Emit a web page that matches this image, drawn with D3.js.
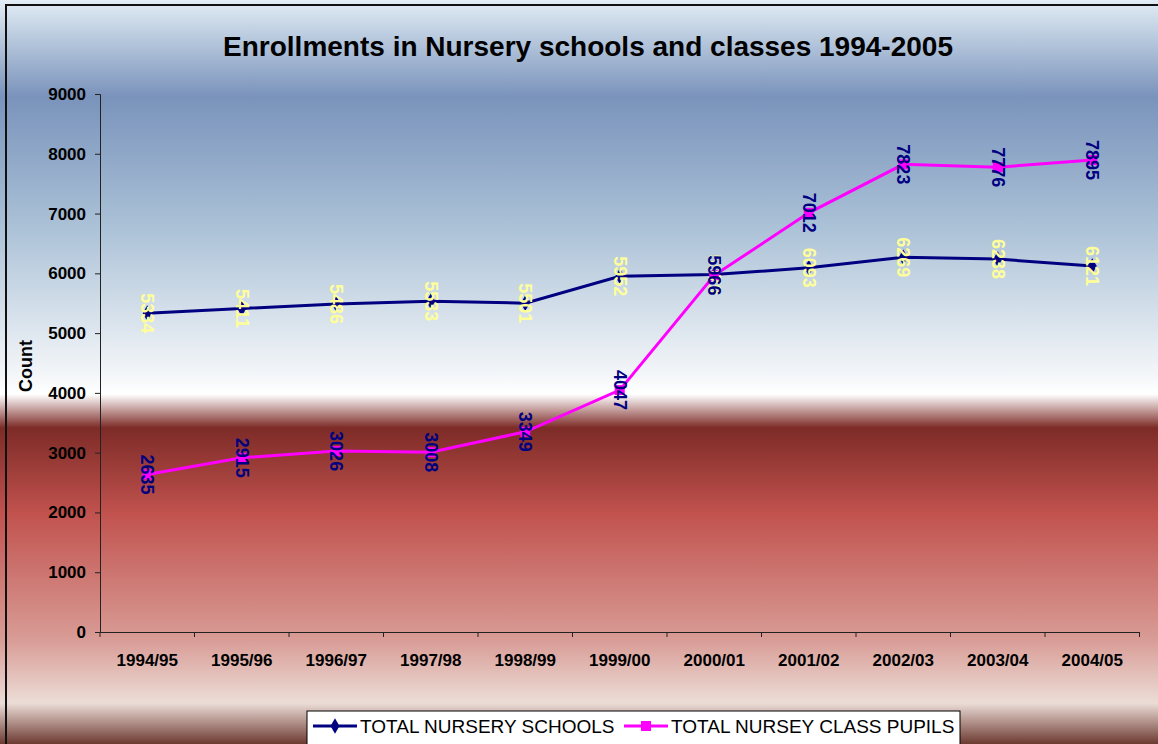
<!DOCTYPE html>
<meta charset="utf-8">
<script src="https://d3js.org/d3.v7.min.js"></script>
<style>
  body { margin: 0; }
  text { font-family: Arial, "Liberation Sans", sans-serif; }
</style>
<body>
<svg width="1158" height="744"></svg>
<script>
    var years    = ['1994/95', '1995/96', '1996/97', '1997/98', '1998/99', '1999/00', '2000/01', '2001/02', '2002/03', '2003/04', '2004/05'];
    var schools  = [5334, 5411, 5486, 5533, 5501, 5952, 5979, 6093, 6269, 6238, 6121];
    var pupils   = [2635, 2915, 3026, 3008, 3349, 4047, 5966, 7012, 7823, 7776, 7895];
    var yTicks   = [0, 1000, 2000, 3000, 4000, 5000, 6000, 7000, 8000, 9000];

    var svg = d3.select('svg');
    var W = 1158, H = 744;

    // background gradient across the whole chart
    var defs = svg.append('defs');
    var grad = defs.append('linearGradient').attr('id', 'bg')
        .attr('x1', 0).attr('y1', 0).attr('x2', 0).attr('y2', 1);
    [[0, '#e2edf5'], [0.13, '#7a93bb'], [0.3, '#a9c0d6'], [0.5, '#f2f5f8'], [0.53, '#ffffff'],
     [0.575, '#7d2b27'], [0.69, '#c1524e'], [0.86, '#d99c96'], [0.945, '#ecddd7'], [1, '#6c3a31']]
        .forEach(function(s){ grad.append('stop').attr('offset', s[0]).attr('stop-color', s[1]); });

    svg.append('rect').attr('width', W).attr('height', H).attr('fill', 'url(#bg)');
    svg.append('rect').attr('x', 6).attr('y', 5).attr('width', W).attr('height', H + 10)
        .attr('fill', 'none').attr('stroke', '#111').attr('stroke-width', 2);

    var pLeft = 100, pRight = 1139.5, pTop = 94, pBottom = 632;
    var x = d3.scaleBand().domain(years).range([pLeft, pRight]);
    var y = d3.scaleLinear().domain([0, 9000]).range([pBottom, pTop]);

    svg.append('text').attr('x', 588).attr('y', 56).attr('text-anchor', 'middle')
        .attr('font-size', 28).attr('font-weight', 'bold').text('Enrollments in Nursery schools and classes 1994-2005');

    var ya = svg.append('g').attr('transform', 'translate(' + pLeft + ',0)')
        .call(d3.axisLeft(y).tickValues(yTicks).tickSize(5).tickPadding(9).tickFormat(d3.format('d')));
    var xa = svg.append('g').attr('transform', 'translate(0,' + pBottom + ')')
        .call(d3.axisBottom(x).tickSize(0).tickPadding(22));
    [ya, xa].forEach(function(a){
        a.selectAll('text').attr('font-size', 17).attr('font-weight', 'bold').attr('fill', '#000')
            .style('font-family', 'Arial, "Liberation Sans", sans-serif');
        a.select('.domain').attr('stroke', '#222');
        a.selectAll('line').attr('stroke', '#222');
    });
    // category ticks at band edges
    xa.selectAll('line.edge').data(years.concat(['end'])).enter().append('line')
        .attr('x1', function(d, i){ return x.step() * i; }).attr('x2', function(d, i){ return x.step() * i; })
        .attr('transform', 'translate(' + pLeft + ',0)')
        .attr('y1', 0).attr('y2', 5).attr('stroke', '#222');

    svg.append('text').attr('transform', 'translate(32,366) rotate(-90)').attr('text-anchor', 'middle')
        .attr('font-size', 18).attr('font-weight', 'bold').text('Count');

    var cx = function(i){ return x(years[i]) + x.bandwidth() / 2; };
    var line = d3.line().x(function(d, i){ return cx(i); }).y(function(d){ return y(d); });

    var series = [
        { vals: schools, color: '#000080', label: '#ffff99', marker: d3.symbolDiamond },
        { vals: pupils,  color: '#ff00ff', label: '#000080', marker: d3.symbolSquare }
    ];

    series.forEach(function(s){
        svg.append('path').datum(s.vals).attr('fill', 'none').attr('stroke', s.color)
            .attr('stroke-width', 3).attr('d', line);
        svg.selectAll(null).data(s.vals).enter().append('path')
            .attr('transform', function(d, i){ return 'translate(' + cx(i) + ',' + y(d) + ')'; })
            .attr('d', d3.symbol().type(s.marker).size(s.marker === d3.symbolSquare ? 100 : 70))
            .attr('fill', s.color);
    });
    series.forEach(function(s){
        svg.selectAll(null).data(s.vals).enter().append('text')
            .attr('transform', function(d, i){ return 'translate(' + (cx(i) - 6) + ',' + y(d) + ') rotate(90)'; })
            .attr('text-anchor', 'middle').attr('font-size', 18).attr('font-weight', 'bold')
            .attr('fill', s.label).text(function(d){ return d; });
    });

    // legend
    var lg = svg.append('g').attr('transform', 'translate(307,711)');
    lg.append('rect').attr('width', 653).attr('height', 40).attr('fill', '#fff').attr('stroke', '#000');
    var items = [['TOTAL NURSERY SCHOOLS', series[0]], ['TOTAL NURSEY CLASS PUPILS', series[1]]];
    var lx = [6, 317];
    items.forEach(function(it, k){
        var g = lg.append('g').attr('transform', 'translate(' + lx[k] + ',15)');
        g.append('line').attr('x1', 0).attr('x2', 44).attr('stroke', it[1].color).attr('stroke-width', 3);
        g.append('path').attr('transform', 'translate(22,0)')
            .attr('d', d3.symbol().type(it[1].marker).size(it[1].marker === d3.symbolSquare ? 100 : 70))
            .attr('fill', it[1].color);
        g.append('text').attr('x', 47).attr('y', 7).attr('font-size', 19).attr('fill', '#000').text(it[0]);
    });
</script>
</body>
